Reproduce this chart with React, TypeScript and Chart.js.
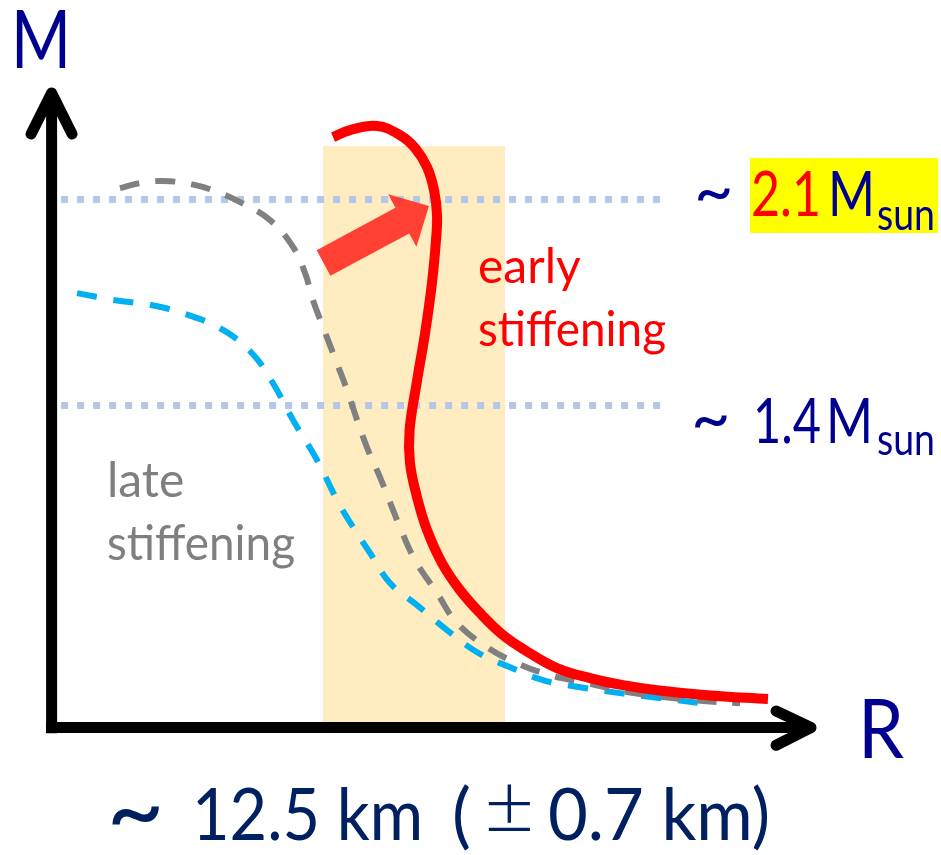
import React, { useEffect, useRef } from "react";
import { Chart, registerables } from "chart.js";

Chart.register(...registerables);

// Data space: R (km) on x, M (solar masses) on y
const R_RANGE = [9.315, 16.554];
const M_RANGE = [-0.127, 2.778];

// Red curve: early stiffening
const redR = [11.877, 12.008, 12.215, 12.392, 12.508, 12.6, 12.654, 12.677, 12.669, 12.638, 12.585, 12.52, 12.466, 12.469, 12.523, 12.6, 12.715, 12.854, 13.008, 13.185, 13.354, 13.6, 13.854, 14.108, 14.369, 14.754, 15.223];
const redM = [2.312, 2.336, 2.35, 2.319, 2.275, 2.21, 2.132, 2.047, 1.962, 1.816, 1.646, 1.476, 1.317, 1.205, 1.089, 0.977, 0.865, 0.773, 0.695, 0.62, 0.569, 0.508, 0.474, 0.45, 0.433, 0.416, 0.403];

// Gray dashed curve: late stiffening
const grayR = [10.238, 10.392, 10.569, 10.777, 10.969, 11.162, 11.392, 11.569, 11.662, 11.723, 11.8, 11.892, 11.985, 12.062, 12.146, 12.238, 12.392, 12.508, 12.677, 12.831, 13.062, 13.292, 13.546, 13.831, 14.138, 14.646, 15.008];
const grayM = [2.139, 2.156, 2.163, 2.153, 2.129, 2.091, 2.03, 1.939, 1.85, 1.758, 1.667, 1.561, 1.453, 1.351, 1.249, 1.157, 0.987, 0.875, 0.763, 0.661, 0.579, 0.525, 0.484, 0.457, 0.427, 0.399, 0.389];

// Blue dashed curve
const blueR = [9.908, 10.2, 10.485, 10.762, 11.031, 11.254, 11.415, 11.569, 11.754, 11.908, 12.031, 12.162, 12.315, 12.523, 12.754, 12.985, 13.238, 13.492, 13.777, 14.085, 14.338, 14.7];
const blueM = [1.782, 1.758, 1.741, 1.708, 1.657, 1.578, 1.476, 1.351, 1.215, 1.079, 0.987, 0.899, 0.797, 0.722, 0.637, 0.562, 0.511, 0.467, 0.443, 0.423, 0.409, 0.389];

// Reference masses (dotted lines)
const refMasses = [2.1, 1.4];
const refLineR = [9.785, 14.408];

// Radius band 12.5 ± 0.7 km
const bandCenter = 12.5;
const bandHalf = 0.7;
const bandTopM = 2.282;

// Axes
const axisOriginR = 9.712;
const axisOriginM = 0.306;
const xAxisStartR = 9.669;
const yAxisStartM = 0.287;
const yTipM = 2.462;
const yWingR = [9.554, 9.869];
const yWingM = 2.323;
const xTipR = 15.554;
const xWingR = 15.285;
const xWingM = [0.362, 0.246];

// Arrow polygon (tail -> head)
const arrowR = [11.751, 12.357, 12.301, 12.615, 12.519, 12.463, 11.857];
const arrowM = [1.928, 2.072, 2.118, 2.078, 1.94, 1.985, 1.841];

const pts = (xs: number[], ys: number[]) => xs.map((x, i) => ({ x, y: ys[i] }));

const NAVY = "#00008F";

function txt(ctx: CanvasRenderingContext2D, s: string, x: number, y: number, size: number, color: string, maxW?: number, align: CanvasTextAlign = "left", family = "Lato", weight = "normal") {
  ctx.font = `${weight} ${size}px ${family}`;
  ctx.fillStyle = color;
  ctx.textAlign = align;
  ctx.textBaseline = "alphabetic";
  if (maxW) ctx.fillText(s, x, y, maxW);
  else ctx.fillText(s, x, y);
}

// Draw a glyph sized so its ink width equals targetW, centred at (cx, cy)
function fitGlyph(ctx: CanvasRenderingContext2D, s: string, cx: number, cy: number, targetW: number, color: string, family = "Lato", weight = "normal") {
  ctx.textAlign = "left";
  ctx.textBaseline = "alphabetic";
  ctx.font = `${weight} 100px ${family}`;
  let m = ctx.measureText(s);
  const w0 = m.actualBoundingBoxLeft + m.actualBoundingBoxRight;
  const size = w0 > 0 ? (100 * targetW) / w0 : 60;
  ctx.font = `${weight} ${size}px ${family}`;
  m = ctx.measureText(s);
  const x = cx - (m.actualBoundingBoxRight - m.actualBoundingBoxLeft) / 2;
  const y = cy - (m.actualBoundingBoxDescent - m.actualBoundingBoxAscent) / 2;
  ctx.fillStyle = color;
  ctx.fillText(s, x, y);
}

const overlay = {
  id: "overlay",
  beforeDatasetsDraw(chart: any) {
    const { ctx, scales } = chart;
    const x = scales.x, y = scales.y;
    const x0 = x.getPixelForValue(bandCenter - bandHalf);
    const x1 = x.getPixelForValue(bandCenter + bandHalf);
    const y0 = y.getPixelForValue(bandTopM);
    const y1 = y.getPixelForValue(axisOriginM);
    ctx.save();
    ctx.fillStyle = "#FFECC0";
    ctx.fillRect(x0, y0, x1 - x0, y1 - y0);
    ctx.restore();
  },
  afterDatasetsDraw(chart: any) {
    const { ctx, scales } = chart;
    const x = scales.x, y = scales.y;
    ctx.save();
    // arrow
    ctx.beginPath();
    arrowR.forEach((r, i) => {
      const px = x.getPixelForValue(r), py = y.getPixelForValue(arrowM[i]);
      if (i === 0) ctx.moveTo(px, py); else ctx.lineTo(px, py);
    });
    ctx.closePath();
    ctx.fillStyle = "rgba(255,40,30,0.88)";
    ctx.fill();

    // axis labels
    txt(ctx, "M", 41, 68, 82, NAVY, 60, "center");
    txt(ctx, "R", 858, 758, 81, NAVY, 46);

    // 2.1 Msun
    ctx.fillStyle = "#FFFF00";
    ctx.fillRect(750, 158, 188, 75);
    fitGlyph(ctx, "~", 714, 194, 32, NAVY);
    txt(ctx, "2.1", 751, 216, 61, "#FF0000", 70);
    txt(ctx, "M", 828, 216, 61, NAVY, 47);
    txt(ctx, "sun", 877, 230, 44, NAVY, 58);

    // 1.4 Msun
    fitGlyph(ctx, "~", 711, 421, 32, NAVY);
    txt(ctx, "1.4", 753, 443, 61, NAVY, 68);
    txt(ctx, "M", 826, 443, 61, NAVY, 47);
    txt(ctx, "sun", 877, 455, 44, NAVY, 58);

    // curve labels
    txt(ctx, "early", 478, 283, 48, "#FF0000");
    txt(ctx, "stiffening", 478, 346, 48, "#FF0000", 188);
    txt(ctx, "late", 107, 497, 48, "#7F7F7F");
    txt(ctx, "stiffening", 107, 560, 48, "#7F7F7F", 188);

    // bottom
    const B = "#002060";
    fitGlyph(ctx, "~", 136, 815, 47, B);
    txt(ctx, "12.5 km", 192, 840, 71, B, 231);
    txt(ctx, "(", 452, 840, 71, B);
    fitGlyph(ctx, "±", 509, 807, 42, B, "Lato", "300");
    txt(ctx, "0.7 km)", 548, 840, 71, B, 222);
    ctx.restore();
  },
};

export default function App() {
  const ref = useRef<HTMLCanvasElement | null>(null);
  useEffect(() => {
    if (!ref.current) return;
    const axisStyle = {
      borderColor: "#000000",
      borderWidth: 11,
      pointRadius: 0,
      tension: 0,
      fill: false,
      order: 1,
      borderCapStyle: "butt" as const,
    };
    const wingStyle = { ...axisStyle, borderCapStyle: "round" as const, borderJoinStyle: "round" as const };
    const chart = new Chart(ref.current, {
      type: "line",
      data: {
        datasets: [
          ...refMasses.map((m) => ({
            data: pts(refLineR, [m, m]),
            borderColor: "#B4C7E7",
            borderWidth: 7,
            borderDash: [7, 9],
            borderCapStyle: "butt" as const,
            pointRadius: 0,
            fill: false,
            order: 6,
          })),
          {
            data: pts(blueR, blueM),
            borderColor: "#00B0F0",
            borderWidth: 6,
            borderDash: [20, 17],
            pointRadius: 0,
            tension: 0.4,
            fill: false,
            order: 5,
          },
          {
            data: pts(grayR, grayM),
            borderColor: "#808080",
            borderWidth: 6,
            borderDash: [20, 16],
            pointRadius: 0,
            tension: 0.4,
            fill: false,
            order: 4,
          },
          {
            data: pts(redR, redM),
            borderColor: "#FF0000",
            borderWidth: 10,
            borderCapStyle: "butt" as const,
            borderJoinStyle: "round" as const,
            pointRadius: 0,
            tension: 0.4,
            fill: false,
            order: 3,
          },
          { ...axisStyle, data: pts([axisOriginR, axisOriginR], [yAxisStartM, yTipM - 0.02]) },
          { ...axisStyle, data: pts([xAxisStartR, xTipR - 0.05], [axisOriginM, axisOriginM]) },
          { ...wingStyle, data: pts([yWingR[0], axisOriginR, yWingR[1]], [yWingM, yTipM, yWingM]) },
          { ...wingStyle, data: pts([xWingR, xTipR, xWingR], [xWingM[0], axisOriginM, xWingM[1]]) },
        ],
      },
      options: {
        responsive: false,
        animation: false,
        devicePixelRatio: 1,
        events: [],
        layout: { padding: 0 },
        scales: {
          x: { type: "linear", min: R_RANGE[0], max: R_RANGE[1], display: false },
          y: { type: "linear", min: M_RANGE[0], max: M_RANGE[1], display: false },
        },
        plugins: { legend: { display: false }, tooltip: { enabled: false } },
      },
      plugins: [overlay],
    });
    return () => chart.destroy();
  }, []);
  return (
    <div style={{ position: "absolute", left: 0, top: 0, width: 941, height: 855, background: "#ffffff" }}>
      <canvas ref={ref} width={941} height={855} style={{ display: "block" }} />
    </div>
  );
}
